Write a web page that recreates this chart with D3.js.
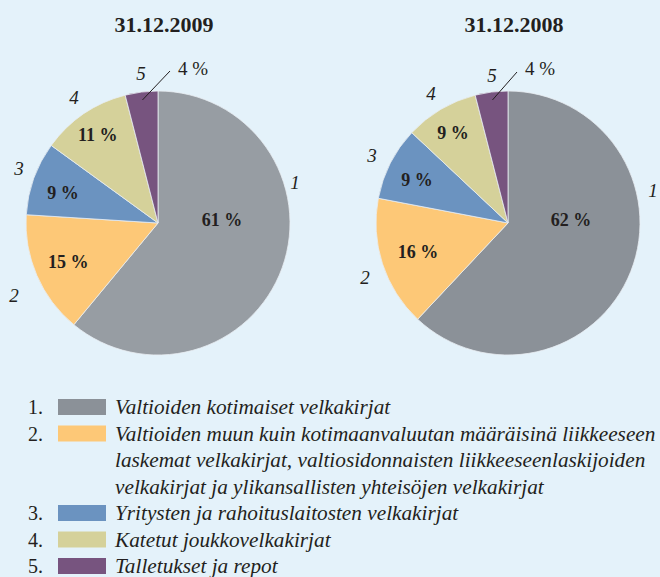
<!DOCTYPE html>
<html>
<head>
<meta charset="utf-8">
<script src="https://cdn.jsdelivr.net/npm/d3@7/dist/d3.min.js"></script>
<style>
  html, body { margin: 0; padding: 0; background: #e4f2fa; }
  svg { display: block; }
</style>
</head>
<body>
<svg id="chart" width="660" height="577"></svg>
<script>
// data
var categories = ["1", "2", "3", "4", "5"];
var titles = ["31.12.2009", "31.12.2008"];
var values2009 = [61, 15, 9, 11, 4];
var values2008 = [62, 16, 9, 9, 4];
var legendLabels = [
  ["Valtioiden kotimaiset velkakirjat"],
  ["Valtioiden muun kuin kotimaanvaluutan määräisinä liikkeeseen",
   "laskemat velkakirjat, valtiosidonnaisten liikkeeseenlaskijoiden",
   "velkakirjat ja ylikansallisten yhteisöjen velkakirjat"],
  ["Yritysten ja rahoituslaitosten velkakirjat"],
  ["Katetut joukkovelkakirjat"],
  ["Talletukset ja repot"]
];

var colors = ["#8b9198", "#fdc877", "#6b93c0", "#d5d19a", "#77547f"];
var serif = "'Liberation Serif', 'DejaVu Serif', serif";

var svg = d3.select("#chart");
var radius = 132;

// layout for each pie: centre, label nudges, outer number offsets
var charts = [
  {title: titles[0], values: values2009, cx: 158, cy: 223, titleX: 164, slice1: "#979da3",
   nudge: [[-30,-37],[2,-1],[-1,4],[-4,-5]],
   outer: [[137,-41],[-144,72],[-139,-55],[-84,-126],[-17,-150]],
   small: [35,-155], leadEnd: [12,-152]},
  {title: titles[1], values: values2008, cx: 508, cy: 223, titleX: 514, slice1: "#8b9198",
   nudge: [[-30,-40],[5,-2],[-2,2],[-4,-4]],
   outer: [[145,-33],[-143,54],[-136,-68],[-77,-130],[-16,-148]],
   small: [32,-155], leadEnd: [9,-151]}
];

var pie = d3.pie().sort(null).value(function(d){ return d; });
var arc = d3.arc().innerRadius(0).outerRadius(radius);
var labelArc = d3.arc().innerRadius(100).outerRadius(100);
var leadArc = d3.arc().innerRadius(124).outerRadius(124);

charts.forEach(function(c){
  svg.append("text")
    .attr("x", c.titleX)
    .attr("y", 32)
    .attr("text-anchor", "middle")
    .style("font-family", serif)
    .style("font-weight", "bold")
    .style("font-size", "22px")
    .style("fill", "#231f20")
    .text(c.title);

  var g = svg.append("g").attr("transform", "translate(" + c.cx + "," + c.cy + ")");
  var arcs = pie(c.values);

  g.selectAll("path")
    .data(arcs)
    .enter()
    .append("path")
    .attr("d", arc)
    .attr("fill", function(d,i){ return i == 0 ? c.slice1 : colors[i]; })
    .attr("stroke", "#e8eef2")
    .attr("stroke-width", 0.8);

  // percentages inside
  g.selectAll("text.pct")
    .data(arcs.slice(0, 4))
    .enter()
    .append("text")
    .attr("class", "pct")
    .attr("x", function(d,i){ return labelArc.centroid(d)[0] + c.nudge[i][0]; })
    .attr("y", function(d,i){ return labelArc.centroid(d)[1] + c.nudge[i][1]; })
    .attr("text-anchor", "middle")
    .attr("dominant-baseline", "central")
    .style("font-family", serif)
    .style("font-weight", "bold")
    .style("font-size", "18px")
    .style("fill", "#231f20")
    .text(function(d){ return d.data + " %"; });

  // small slice label with leader line
  var last = arcs[4];
  var p0 = leadArc.centroid(last);
  g.append("line")
    .attr("x1", p0[0]).attr("y1", p0[1])
    .attr("x2", c.leadEnd[0]).attr("y2", c.leadEnd[1])
    .attr("stroke", "#231f20")
    .attr("stroke-width", 1);
  g.append("text")
    .attr("x", c.small[0])
    .attr("y", c.small[1])
    .attr("text-anchor", "middle")
    .attr("dominant-baseline", "central")
    .style("font-family", serif)
    .style("font-size", "19px")
    .style("fill", "#231f20")
    .text(last.data + " %");

  // category numbers outside
  g.selectAll("text.num")
    .data(categories)
    .enter()
    .append("text")
    .attr("class", "num")
    .attr("x", function(d,i){ return c.outer[i][0]; })
    .attr("y", function(d,i){ return c.outer[i][1]; })
    .attr("text-anchor", "middle")
    .attr("dominant-baseline", "central")
    .style("font-family", serif)
    .style("font-style", "italic")
    .style("font-size", "19px")
    .style("fill", "#231f20")
    .text(function(d){ return d; });
});

// legend
var lineH = 26.5;
var legend = svg.append("g");
var row = 0;
legendLabels.forEach(function(lines, i){
  var y = 407 + row * lineH;
  legend.append("text")
    .attr("x", 43)
    .attr("y", y)
    .attr("text-anchor", "end")
    .attr("dominant-baseline", "central")
    .style("font-family", serif)
    .style("font-size", "20px")
    .style("fill", "#231f20")
    .text(categories[i] + ".");
  legend.append("rect")
    .attr("x", 58)
    .attr("y", y - 8)
    .attr("width", 48)
    .attr("height", 16)
    .attr("fill", colors[i]);
  lines.forEach(function(t, j){
    legend.append("text")
      .attr("class", "leg")
      .attr("x", 115)
      .attr("y", y + j * lineH)
      .attr("dominant-baseline", "central")
      .style("font-family", serif)
      .style("font-style", "italic")
      .style("font-size", "20px")
      .style("fill", "#231f20")
      .text(t);
  });
  row += lines.length;
});

// fit legend text to the reference width of the longest line
var longest = d3.max(legend.selectAll("text.leg").nodes(), function(n){ return n.getComputedTextLength(); });
var fs = Math.min(22, 20 * 541 / longest);
legend.selectAll("text.leg").style("font-size", fs + "px");
</script>
</body>
</html>
